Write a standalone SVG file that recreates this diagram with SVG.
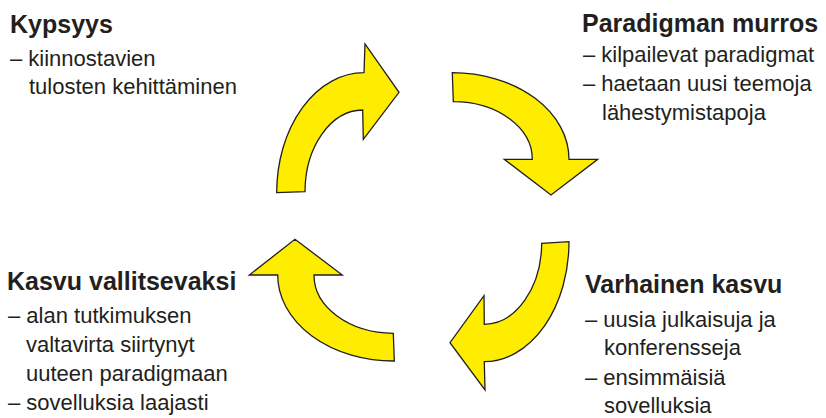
<svg xmlns="http://www.w3.org/2000/svg" width="826" height="418" viewBox="0 0 826 418">
<style>
.t{font-family:"Liberation Sans",Arial,sans-serif;font-weight:bold;font-size:25px;fill:#231f20}
.b{font-family:"Liberation Sans",Arial,sans-serif;font-size:22px;fill:#231f20}
.arr{fill:#ffed00;stroke:#231f20;stroke-width:1.3;stroke-linejoin:miter}
</style>
<rect width="826" height="418" fill="#ffffff"/>
<g id="connectors">
<path class="arr" d="M276.7,192.7 A87.3 120 0 0 1 364,72.7 L365,44 L399,92.3 L363.3,139.3 L362.7,110 A58 82 0 0 0 305,191.7 Z"/>
<path class="arr" d="M452.3,72.7 A116.7 86.6 0 0 1 569,159.3 L597.7,159.3 L551,195 L504.3,159.3 L532.3,159.3 A79 57.6 0 0 0 453.3,101.7 Z"/>
<path class="arr" d="M569,241.7 A85 120 0 0 1 484.3,361.7 L485,390 L450,342.7 L484,295.7 L484.3,324.3 A57.7 82 0 0 0 541.7,243.3 Z"/>
<path class="arr" d="M394.3,361 A116 86 0 0 1 277.7,275 L249.3,275 L295,239.3 L342.3,275 L314,275 A80 58 0 0 0 393.3,333.3 Z"/>
</g>
<g id="kypsyys">
<text class="t" x="10" y="33">Kypsyys</text>
<text class="b" x="10" y="66">– kiinnostavien</text>
<text class="b" x="29" y="94">tulosten kehittäminen</text>
</g>
<g id="paradigman-murros">
<text class="t" x="582" y="32">Paradigman murros</text>
<text class="b" x="583" y="62">– kilpailevat paradigmat</text>
<text class="b" x="583" y="91">– haetaan uusi teemoja</text>
<text class="b" x="602" y="120">lähestymistapoja</text>
</g>
<g id="varhainen-kasvu">
<text class="t" x="585" y="293">Varhainen kasvu</text>
<text class="b" x="585" y="327">– uusia julkaisuja ja</text>
<text class="b" x="604" y="355">konferensseja</text>
<text class="b" x="585" y="385">– ensimmäisiä</text>
<text class="b" x="604" y="413">sovelluksia</text>
</g>
<g id="kasvu-vallitsevaksi">
<text class="t" x="7" y="290">Kasvu vallitsevaksi</text>
<text class="b" x="8" y="323">– alan tutkimuksen</text>
<text class="b" x="26" y="352">valtavirta siirtynyt</text>
<text class="b" x="26" y="381">uuteen paradigmaan</text>
<text class="b" x="8" y="410">– sovelluksia laajasti</text>
</g>
</svg>
